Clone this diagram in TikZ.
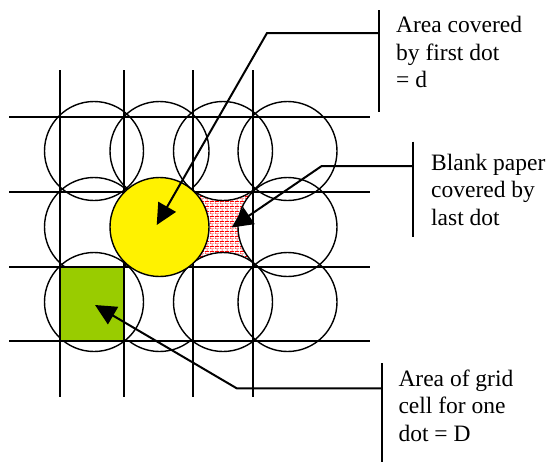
\documentclass[tikz,border=0pt]{standalone}
\usepackage{fontspec}
\setmainfont{Liberation Serif}
\usetikzlibrary{arrows.meta,patterns}
\definecolor{cellgreen}{RGB}{153,204,0}
\pgfdeclarepatternformonly{smallbricks}{\pgfpointorigin}{\pgfpoint{5pt}{5.4pt}}{\pgfpoint{5pt}{5.4pt}}{%
  \pgfsetlinewidth{0.7pt}%
  \pgfpathmoveto{\pgfpoint{0pt}{0pt}}\pgfpathlineto{\pgfpoint{5pt}{0pt}}%
  \pgfpathmoveto{\pgfpoint{0pt}{2.7pt}}\pgfpathlineto{\pgfpoint{5pt}{2.7pt}}%
  \pgfpathmoveto{\pgfpoint{0pt}{0pt}}\pgfpathlineto{\pgfpoint{0pt}{2.7pt}}%
  \pgfpathmoveto{\pgfpoint{2.5pt}{2.7pt}}\pgfpathlineto{\pgfpoint{2.5pt}{5.4pt}}%
  \pgfusepath{stroke}}
\begin{document}
\begin{tikzpicture}[x=1pt,y=-1pt,
  gridline/.style={line width=1.4pt},
  dotline/.style={line width=1.4pt},
  conn/.style={line width=2pt,-{Triangle[length=21pt,width=20pt]}},
  barline/.style={line width=2pt},
  lbl/.style={anchor=north west,inner sep=0pt,align=left,font=\fontsize{23.5}{27.5}\selectfont}]
\useasboundingbox (0,0) rectangle (548,463);
% hatched blank paper
\fill[pattern=smallbricks,pattern color=red] (193,192) rectangle (253,267);
\begin{scope}
  \clip (193,192) rectangle (253,267);
  \fill[white] (223,151) circle (49.5) (287.5,227) circle (49.5) (223,302) circle (49.5);
\end{scope}
% grid
\foreach \x in {60,124,193,253} \draw[gridline] (\x,70) -- (\x,397);
\foreach \y in {117,192,267,341} \draw[gridline] (9,\y) -- (370,\y);
% dots
\foreach \x in {94,159.5,223,287.5} \draw[dotline] (\x,151) circle (49.5);
\foreach \x in {94,287.5} \draw[dotline] (\x,227) circle (49.5);
\foreach \x in {94,223,287.5} \draw[dotline] (\x,302) circle (49.5);
\begin{scope}
  \clip (100,341) rectangle (220,365);
  \draw[dotline] (159.5,302) circle (49.5);
\end{scope}
% green cell
\fill[cellgreen,draw=black,line width=1.4pt] (60,267) rectangle (124,341);
% first dot
\draw[dotline,fill=yellow] (159.5,227) circle (49.5);
% labels
\node[lbl] (l1) at (396,16) {Area covered\\by first dot\\= d};
\node[lbl] (l2) at (431,153.6) {Blank paper\\covered by\\last dot};
\node[lbl] (l3) at (398.3,369.6) {Area of grid\\cell for one\\dot = D};
% callout bars
\coordinate (b1a) at (379,10); \coordinate (b1b) at (379,112);
\coordinate (b2a) at (412.7,141.7); \coordinate (b2b) at (412.7,236.7);
\coordinate (b3a) at (381.5,363); \coordinate (b3b) at (381.5,462);
\draw[barline] (b1a) -- (b1b);
\draw[barline] (b2a) -- (b2b);
\draw[barline] (b3a) -- (b3b);
% connectors
\coordinate (s1) at (379,33); \coordinate (e1) at (267,33); \coordinate (t1) at (156.7,225);
\coordinate (s2) at (412.7,166); \coordinate (e2) at (321.7,166); \coordinate (t2) at (231.7,227.5);
\coordinate (s3) at (381.5,388.3); \coordinate (e3) at (236.7,388.3); \coordinate (t3) at (95,305);
\draw[conn] (s1) -- (e1) -- (t1);
\draw[conn] (s2) -- (e2) -- (t2);
\draw[conn] (s3) -- (e3) -- (t3);
\end{tikzpicture}
\end{document}
